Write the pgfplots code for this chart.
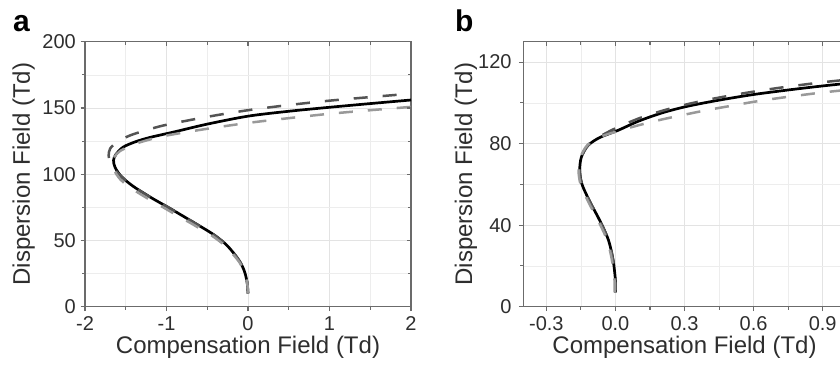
\documentclass[border=0pt]{standalone}
\usepackage{fontspec}
\setmainfont{Liberation Sans}
\usepackage{pgfplots}
\pgfplotsset{compat=1.18}
\definecolor{dk}{gray}{0.33}
\definecolor{lt}{gray}{0.6}
\definecolor{frm}{gray}{0.42}
\definecolor{txt}{gray}{0.18}
\newcommand{\tickfont}{\fontsize{20}{24}\selectfont}
\newcommand{\labfont}{\fontsize{24}{28}\selectfont}
\pgfplotsset{
  common/.style={
    scale only axis, anchor=south west,
    axis line style={frm, line width=1.2pt},
    every tick/.style={frm, line width=1.1pt},
    major tick length=4.5pt, minor tick length=3pt,
    grid=both,
    major grid style={black!11, line width=0.6pt},
    minor grid style={black!7, line width=0.6pt},
    tick align=outside, xtick pos=left, ytick pos=left,
    ticklabel style={font=\tickfont, text=txt, inner sep=0pt},
    xticklabel shift=5pt,
    every axis x label/.style={at={(axis description cs:0.5,0)}, anchor=base, yshift=-46.3pt, font=\labfont, text=txt},
    clip=false,
  },
  overlay/.style={
    scale only axis, anchor=south west,
    axis line style={draw=none},
    every tick/.style={frm, line width=1.1pt},
    major tick length=4pt, minor tick length=3pt,
    tick align=inside, xtick pos=right, ytick pos=right,
    xticklabels={}, yticklabels={},
  },
  blk/.style={black, line width=2.7pt, smooth},
  dkd/.style={dk, line width=2.5pt, smooth, dash pattern=on 14pt off 15pt},
  ltd/.style={lt, line width=2.5pt, smooth, dash pattern=on 14pt off 15pt},
}
\begin{document}
\begin{tikzpicture}
\path[use as bounding box] (0,0) rectangle (840pt,365pt);
\clip (0,0) rectangle (840pt,365pt);
\fill[white] (0,0) rectangle (840pt,365pt);
% ---------------- panel a ----------------
\begin{axis}[common,
  at={(85pt,58.3pt)}, width=326pt, height=265pt,
  xmin=-2, xmax=2, ymin=0, ymax=200,
  xtick={-2,-1,0,1,2}, xticklabels={-2,-1,0,1,2},
  minor xtick={-1.5,-0.5,0.5,1.5},
  ytick={0,50,100,150,200}, yticklabels={0,50,100,150,200},
  minor ytick={25,75,125,175},
  yticklabel shift=4.5pt,
  xlabel={Compensation Field (Td)},
  ylabel={Dispersion Field (Td)},
  every axis y label/.style={at={(axis description cs:0,0.5)}, rotate=90, anchor=base, yshift=55pt, font=\labfont, text=txt},
]
\addplot[blk] coordinates {
(0.0,10) (-0.01,18) (-0.04,26) (-0.09,33) (-0.17,40) (-0.27,47) (-0.40,53.5)
(-0.5,57.5) (-0.65,63) (-0.8,68.5) (-0.98,75) (-1.18,82) (-1.40,90.5) (-1.55,98)
(-1.63,105) (-1.65,110.5) (-1.62,115) (-1.53,120.5) (-1.38,124.5) (-1.2,127.8)
(-0.9,132) (-0.5,137.8) (0,143.8) (0.5,147.5) (1.0,150.5) (1.5,153.3) (2.0,156)};
\addplot[dkd] coordinates {
(0.0,10) (-0.01,18) (-0.04,26) (-0.09,33) (-0.17,40) (-0.27,47) (-0.40,53.5)
(-0.5,57.5) (-0.65,63) (-0.8,68.5) (-0.98,75) (-1.18,82) (-1.40,90.5) (-1.55,98)
(-1.64,104) (-1.69,109) (-1.71,114) (-1.69,119.5) (-1.6,124.5) (-1.45,129.2)
(-1.25,133.2) (-1.0,137.3) (-0.5,143.3) (0,148.3) (0.5,152.2) (1.0,155.5) (1.5,158.2) (2.0,160.8)};
\addplot[ltd] coordinates {
(0.0,10) (-0.01,18) (-0.05,26) (-0.1,33) (-0.19,40) (-0.3,47) (-0.44,53.5)
(-0.55,57.5) (-0.7,63) (-0.86,68.5) (-1.04,75) (-1.24,82) (-1.46,90.5) (-1.58,97)
(-1.64,103) (-1.66,108) (-1.64,113) (-1.57,117.5) (-1.4,122.5) (-1.2,126.3)
(-1.0,129.2) (-0.5,134.3) (0,138.7) (0.5,142.3) (1.0,145.6) (1.5,148.3) (2.0,150.8)};
\end{axis}
\begin{axis}[overlay,
  at={(85pt,58.3pt)}, width=326pt, height=265pt,
  xmin=-2, xmax=2, ymin=0, ymax=200,
  xtick={-2,-1,0,1,2}, minor xtick={-1.5,-0.5,0.5,1.5},
  ytick={0,50,100,150,200}, minor ytick={25,75,125,175},
]
\end{axis}
% ---------------- panel b ----------------
\begin{axis}[common,
  at={(523.3pt,58.3pt)}, width=322.4pt, height=265pt,
  xmin=-0.4, xmax=1.0, ymin=0, ymax=130,
  xtick={-0.3,0,0.3,0.6,0.9}, xticklabels={-0.3,0.0,0.3,0.6,0.9},
  minor xtick={-0.15,0.15,0.45,0.75},
  ytick={0,40,80,120}, yticklabels={0,40,80,120},
  minor ytick={20,60,100},
  yticklabel shift=7pt,
  xlabel={Compensation Field (Td)},
  ylabel={Dispersion Field (Td)},
  every axis y label/.style={at={(axis description cs:0,0.5)}, rotate=90, anchor=base, yshift=51.3pt, font=\labfont, text=txt},
]
\addplot[blk] coordinates {
(0,7) (0,13) (-0.01,22.8) (-0.03,32.6) (-0.068,42.3) (-0.11,51.3) (-0.145,60)
(-0.155,66.8) (-0.148,73.3) (-0.12,79) (-0.068,83) (0.011,86.5) (0.1,91) (0.2,95)
(0.3,98) (0.4,100.3) (0.5,102.3) (0.6,104.1) (0.7,105.6) (0.8,107) (0.9,108.3) (1.0,109.5)};
\addplot[dkd] coordinates {
(0,7) (0,13) (-0.01,22.8) (-0.03,32.6) (-0.068,42.3) (-0.11,51.3) (-0.145,60)
(-0.155,66.8) (-0.148,73.3) (-0.12,79) (-0.07,83.3) (0.0,87.5) (0.1,92.3) (0.2,96)
(0.3,99) (0.4,101.5) (0.5,103.6) (0.6,105.5) (0.7,107.2) (0.8,108.7) (0.9,110.1) (1.0,111.3)};
\addplot[ltd] coordinates {
(-0.004,7) (-0.004,13) (-0.015,22.8) (-0.036,32.6) (-0.075,42.3) (-0.117,51.3) (-0.151,60)
(-0.16,66.8) (-0.152,73.3) (-0.12,79.5) (-0.06,83.5) (0.0,85.8) (0.1,89) (0.2,91.8)
(0.3,94.2) (0.4,96.5) (0.5,98.5) (0.6,100.5) (0.7,102.2) (0.8,103.7) (0.9,105.1) (1.0,106.3)};
\end{axis}
\begin{axis}[overlay,
  at={(523.3pt,58.3pt)}, width=322.4pt, height=265pt,
  xmin=-0.4, xmax=1.0, ymin=0, ymax=130,
  xtick={-0.3,0,0.3,0.6,0.9}, minor xtick={-0.15,0.15,0.45,0.75},
  ytick={0,40,80,120}, minor ytick={20,60,100},
]
\end{axis}
% panel letters
\node[anchor=base west, inner sep=0pt, font=\fontsize{30}{34}\selectfont\bfseries] at (13pt,333pt) {a};
\node[anchor=base west, inner sep=0pt, font=\fontsize{30}{34}\selectfont\bfseries] at (455pt,333pt) {b};
\end{tikzpicture}
\end{document}
